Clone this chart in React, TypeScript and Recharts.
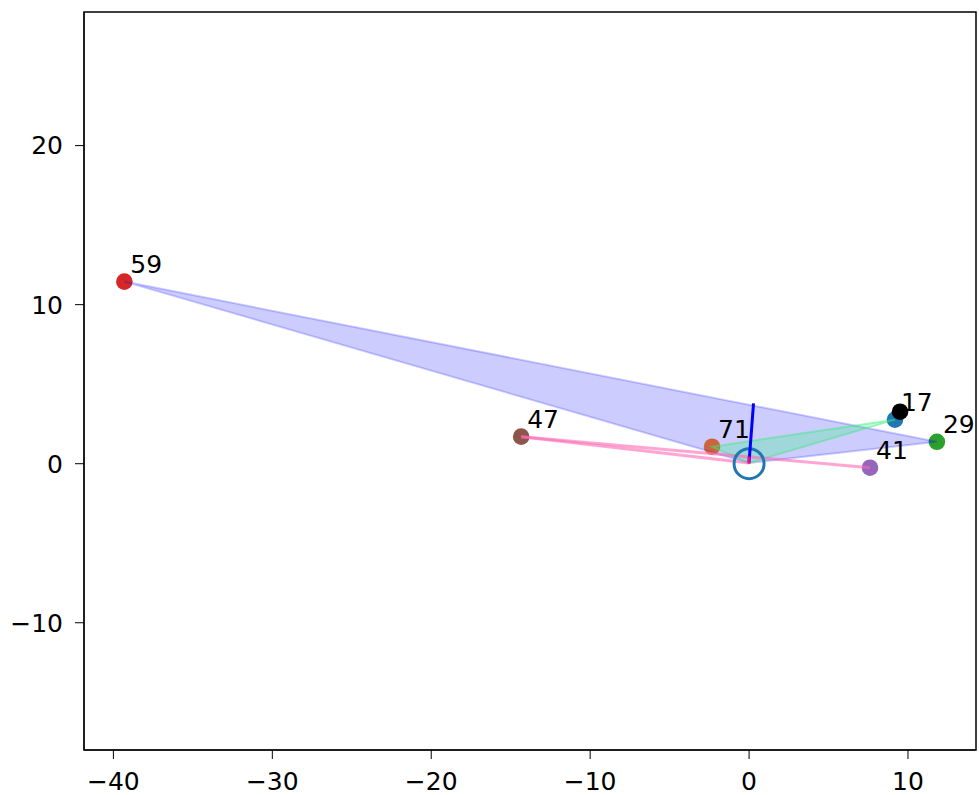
import { ScatterChart, Scatter, XAxis, YAxis, ReferenceArea } from "recharts";

// labelled markers
const markX = [-39.31, -14.34, -2.33, 9.18, 11.82, 7.61];
const markY = [11.45, 1.7, 1.07, 2.77, 1.38, -0.25];
const markLabels = ["59", "47", "71", "17", "29", "41"];
const markColors = ["#d62728", "#8c564b", "#ff7f0e", "#1f77b4", "#2ca02c", "#9467bd"];

// shaded triangles
const blueFillX = [-39.31, 11.82, 0.0];
const blueFillY = [11.45, 1.38, 0.05];
const greenFillX = [-2.33, 9.18, 0.0];
const greenFillY = [1.07, 2.77, 0.05];

// pink links
const pinkAX = [-14.34, 7.61];
const pinkAY = [1.7, -0.25];
const pinkBX = [-14.34, 0.0];
const pinkBY = [1.7, 0.05];

// origin marker, heading and the black point
const centerX = [0];
const centerY = [0];
const headingX = [0.0, 0.28];
const headingY = [0.1, 3.8];
const stubX = [0.0, 0.0];
const stubY = [0.0, 0.45];
const currentX = [9.5];
const currentY = [3.27];

const xTicks = [-40, -30, -20, -10, 0, 10];
const yTicks = [-10, 0, 10, 20];
const xDomain = [-41.85, 14.28];
const yDomain = [-18.0, 28.4];

const toPoints = (xs: number[], ys: number[]) => xs.map((x, i) => ({ x, y: ys[i] }));

const marks = markX.map((x, i) => ({ x, y: markY[i], label: markLabels[i], color: markColors[i] }));

const FONT = "DejaVu Sans";
const FS = 25;
const fmt = (v: number) => (v < 0 ? `\u2212${-v}` : `${v}`);
const tickStyle = { fontFamily: FONT, fontSize: FS, fill: "#000" };
const hidden = () => <g />;

const polygon = (fill: string, opacity: number, stroke: string) => (p: any) => (
  <polygon
    points={p.points.map((q: any) => `${q.x},${q.y}`).join(" ")}
    fill={fill}
    fillOpacity={opacity}
    stroke={stroke}
    strokeWidth={2}
  />
);

const MarkShape = (p: any) => <circle cx={p.cx} cy={p.cy} r={8.3} fill={p.payload.color} />;

const LabelShape = (p: any) => (
  <text x={p.cx + 6} y={p.cy - 9} fontFamily={FONT} fontSize={FS} fill="#000">
    {p.payload.label}
  </text>
);

export default function App() {
  return (
    <div>
      <style>{`html,body{margin:0;overflow:hidden}`}</style>
      <ScatterChart width={979} height={795} margin={{ top: 12, right: 3, bottom: 0, left: 8 }}>
        <XAxis
          type="number"
          dataKey="x"
          domain={xDomain}
          allowDataOverflow
          ticks={xTicks}
          interval={0}
          tickFormatter={fmt}
          tick={tickStyle}
          tickSize={9}
          tickMargin={13}
          height={45}
          stroke="#000"
        />
        <YAxis
          type="number"
          dataKey="y"
          domain={yDomain}
          allowDataOverflow
          ticks={yTicks}
          interval={0}
          tickFormatter={fmt}
          tick={tickStyle}
          tickSize={9}
          tickMargin={12}
          width={76}
          stroke="#000"
        />
        <ReferenceArea
          x1={xDomain[0]}
          x2={xDomain[1]}
          y1={yDomain[0]}
          y2={yDomain[1]}
          fill="none"
          stroke="#000"
          strokeWidth={1.5}
          ifOverflow="visible"
        />

        <Scatter data={marks} shape={MarkShape} isAnimationActive={false} />
        <Scatter
          data={toPoints(blueFillX, blueFillY)}
          shape={hidden}
          line={polygon("#0000ff", 0.2, "rgba(0,0,255,0.2)")}
          lineType="joint"
          isAnimationActive={false}
        />
        <Scatter
          data={toPoints(greenFillX, greenFillY)}
          shape={hidden}
          line={polygon("#00ff55", 0.22, "rgba(60,235,120,0.45)")}
          lineType="joint"
          isAnimationActive={false}
        />
        <Scatter
          data={toPoints(pinkAX, pinkAY)}
          shape={hidden}
          line={{ stroke: "#ff69b4", strokeOpacity: 0.6, strokeWidth: 3 }}
          lineType="joint"
          isAnimationActive={false}
        />
        <Scatter
          data={toPoints(pinkBX, pinkBY)}
          shape={hidden}
          line={{ stroke: "#ff69b4", strokeOpacity: 0.6, strokeWidth: 3 }}
          lineType="joint"
          isAnimationActive={false}
        />
        <Scatter
          data={toPoints(centerX, centerY)}
          shape={(p: any) => <circle cx={p.cx} cy={p.cy} r={15} fill="none" stroke="#1f77b4" strokeWidth={3} />}
          isAnimationActive={false}
        />
        <Scatter
          data={toPoints(headingX, headingY)}
          shape={hidden}
          line={{ stroke: "#0000ff", strokeWidth: 3 }}
          lineType="joint"
          isAnimationActive={false}
        />
        <Scatter
          data={toPoints(stubX, stubY)}
          shape={hidden}
          line={{ stroke: "#e0108f", strokeWidth: 3 }}
          lineType="joint"
          isAnimationActive={false}
        />
        <Scatter
          data={toPoints(currentX, currentY)}
          shape={(p: any) => <circle cx={p.cx} cy={p.cy} r={8.3} fill="#000" />}
          isAnimationActive={false}
        />
        <Scatter data={marks} shape={LabelShape} isAnimationActive={false} />
      </ScatterChart>
    </div>
  );
}
